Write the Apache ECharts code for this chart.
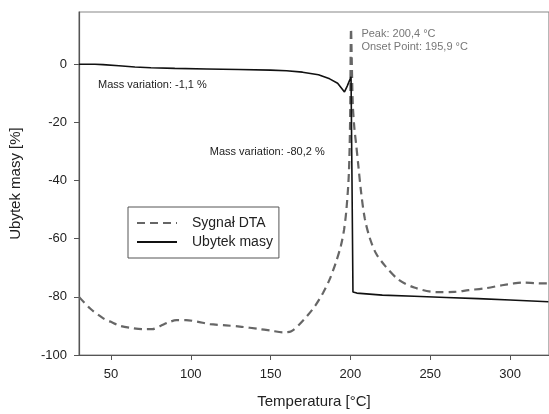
<!DOCTYPE html>
<html><head><meta charset="utf-8">
<script src="https://cdn.jsdelivr.net/npm/echarts@6/dist/echarts.min.js"></script>
<style>html,body{margin:0;padding:0;background:#fff}#c{width:549px;height:414px}</style>
</head><body><div id="c"></div>
<script>
// Temperature [°C], DTA signal (dashed)
const dtaTemp = [30,37,45,50,56,64,70,76,81,86,91,97,104,112,122,132,142,150,158,163,168,173,178,183,187,191,194,196,197.5,199,199.8,200.4,200.9,201.5,202.5,203.5,205,206.7,209,212,216,222,230,240,254,265,274,285,295,302,308,316,324];
const dtaVal  = [-80,-84,-87.3,-88.6,-90,-90.8,-91.1,-91.1,-90,-88.8,-88,-88,-88.5,-89.4,-89.8,-90.3,-91,-91.6,-92.2,-91.8,-89.5,-86.5,-83,-78.5,-74,-68,-62.5,-57,-50,-38,-20,12.3,0,-14,-22,-27,-35,-44,-53,-59.5,-65,-69.5,-74,-76.8,-78.4,-78.3,-77.7,-77,-76,-75.4,-75.1,-75.3,-75.4];
// Mass loss (solid)
const massTemp = [30,40,45,55,65,75,90,110,130,150,160,170,180,187,192,196.3,198,200.4,201,201.6,204,220,240,260,280,300,324];
const massVal  = [0,0,-0.1,-0.5,-0.9,-1.2,-1.4,-1.6,-1.8,-2.0,-2.2,-2.7,-3.6,-5.0,-6.5,-9.5,-7.5,-4.3,-40,-78.3,-78.7,-79.4,-79.8,-80.2,-80.6,-81.1,-81.7];
const xTicks = [50,100,150,200,250,300];
const yTicks = [-100,-80,-60,-40,-20,0];
const seriesNames = ['Sygnał DTA','Ubytek masy'];
const notes = [
  {text:'Mass variation: -1,1 %', x:41.9, y:-7.2, color:'#222'},
  {text:'Mass variation: -80,2 %', x:111.9, y:-30.1, color:'#222'},
  {text:'Peak: 200,4 °C', x:206.9, y:10.6, color:'#777'},
  {text:'Onset Point: 195,9 °C', x:206.9, y:5.8, color:'#777'}
];

const zip = (a,b)=>a.map((v,i)=>[v,b[i]]);
const chart = echarts.init(document.getElementById('c'));
const FF = '"Liberation Sans", Arial, sans-serif';
chart.setOption({
  animation:false,
  textStyle:{fontFamily:FF},
  grid:{left:79,top:12,right:-1,bottom:58,show:true,borderColor:'#888',borderWidth:1.2,backgroundColor:'transparent'},
  legend:{
    data:seriesNames, orient:'vertical', left:128, top:207,
    itemWidth:40, itemHeight:10, itemGap:5,
    padding:[9,6,9,8], borderColor:'#555', borderWidth:1,
    itemStyle:{opacity:0},
    textStyle:{fontSize:14, color:'#222', fontFamily:FF, padding:[0,0,0,10]}
  },
  xAxis:{
    type:'value', min:30, max:324.4,
    name:'Temperatura [°C]', nameLocation:'middle', nameGap:39,
    nameTextStyle:{fontSize:15,color:'#222'},
    axisLine:{show:true,onZero:false,lineStyle:{color:'#555',width:1.2}},
    axisTick:{show:true,length:5,inside:false,customValues:xTicks,lineStyle:{color:'#555'}},
    axisLabel:{customValues:xTicks,fontSize:13,color:'#222',margin:13},
    splitLine:{show:false}
  },
  yAxis:{
    type:'value', min:-100, max:18,
    name:'Ubytek masy [%]', nameLocation:'middle', nameGap:56, nameRotate:90,
    nameTextStyle:{fontSize:15,color:'#222'},
    axisLine:{show:true,onZero:false,lineStyle:{color:'#555',width:1.2}},
    axisTick:{show:true,length:5,customValues:yTicks,lineStyle:{color:'#555'}},
    axisLabel:{customValues:yTicks,fontSize:13,color:'#222',margin:12},
    splitLine:{show:false}
  },
  series:[{
    name:seriesNames[0], type:'line', data:zip(dtaTemp,dtaVal), symbol:'none', smooth:0.3,
    lineStyle:{color:'#666',width:2.2,type:[8,5]}, itemStyle:{color:'#666'}
  },{
    name:seriesNames[1], type:'line', data:zip(massTemp,massVal), symbol:'none',
    lineStyle:{color:'#111',width:1.6}, itemStyle:{color:'#111'}
  }]
});
const g = notes.map(n=>{
  const p = chart.convertToPixel({xAxisIndex:0,yAxisIndex:0},[n.x,n.y]);
  return {type:'text', x:p[0], y:p[1], style:{text:n.text, fill:n.color, font:'11px '+FF, textVerticalAlign:'middle'}};
});
chart.setOption({graphic:g});
</script></body></html>
